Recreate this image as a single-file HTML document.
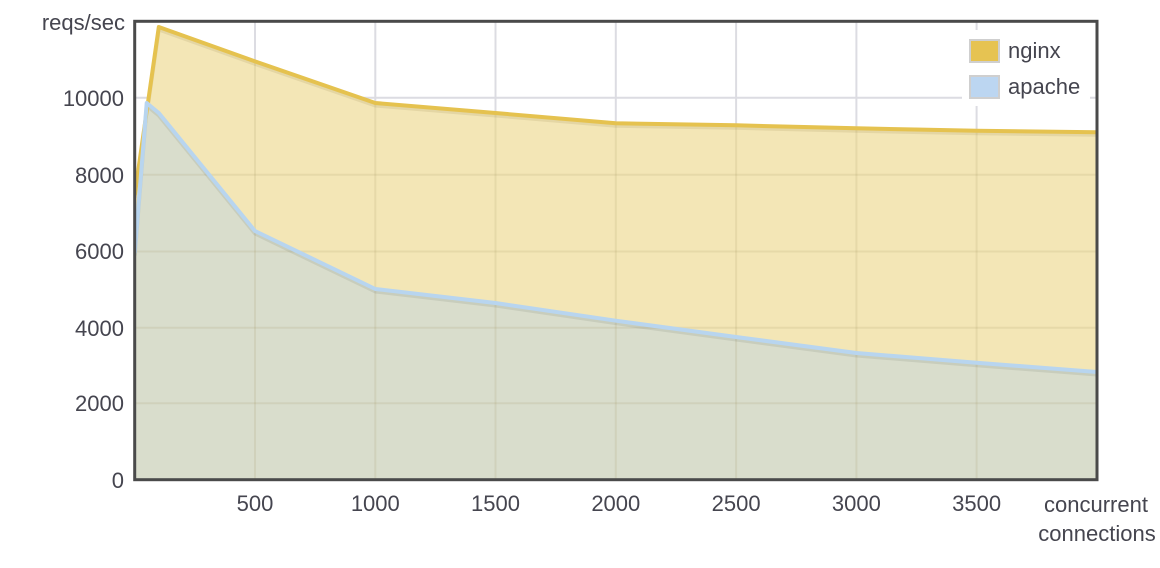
<!DOCTYPE html>
<html>
<head>
<meta charset="utf-8">
<style>
  html,body{margin:0;padding:0;background:#ffffff;}
  svg{display:block;}
  text{font-family:"Liberation Sans",Arial,sans-serif;fill:#45454f;font-size:22px;}
</style>
</head>
<body>
<svg width="1160" height="568" viewBox="0 0 1160 568" xmlns="http://www.w3.org/2000/svg">
  <defs>
    <clipPath id="plot">
      <rect x="134.7" y="21.3" width="962.3" height="458.4"/>
    </clipPath>
  </defs>
  <rect x="0" y="0" width="1160" height="568" fill="#ffffff"/>
  <rect x="134.7" y="21.3" width="962.3" height="458.4" fill="#ffffff"/>

  <g clip-path="url(#plot)">
    <!-- grid on white -->
    <g stroke="#dcdce2" stroke-width="2">
      <line x1="255" y1="21" x2="255" y2="480"/>
      <line x1="375.3" y1="21" x2="375.3" y2="480"/>
      <line x1="495.5" y1="21" x2="495.5" y2="480"/>
      <line x1="615.8" y1="21" x2="615.8" y2="480"/>
      <line x1="736.1" y1="21" x2="736.1" y2="480"/>
      <line x1="856.4" y1="21" x2="856.4" y2="480"/>
      <line x1="976.6" y1="21" x2="976.6" y2="480"/>
      <line x1="134" y1="97.7" x2="1098" y2="97.7"/>
    </g>
    <!-- nginx area -->
    <polygon fill="#f3e6b6" points="134.7,479.7 134.7,195.1 158.8,27 255,61.4 375.3,103 495.5,113 615.8,123.3 736.1,125.3 856.4,128.3 976.6,130.7 1097,132.3 1097,479.7"/>
    <!-- nginx shadow -->
    <polyline fill="none" stroke="rgba(120,100,40,0.12)" stroke-width="4" stroke-linejoin="round" transform="translate(0,2.5)" points="134.7,195.1 158.8,27 255,61.4 375.3,103 495.5,113 615.8,123.3 736.1,125.3 856.4,128.3 976.6,130.7 1097,132.3"/>
    <!-- apache area -->
    <polygon fill="#d9ddcc" points="134.7,479.7 134.7,253 146.7,103 158.8,113 255,231 375.3,289 495.5,303 615.8,320.7 736.1,337 856.4,353 976.6,362.7 1097,372 1097,479.7"/>
    <!-- grid on fills -->
    <g stroke="rgba(150,130,80,0.13)" stroke-width="2">
      <line x1="134" y1="403.3" x2="1098" y2="403.3"/>
      <line x1="134" y1="327.7" x2="1098" y2="327.7"/>
      <line x1="134" y1="251.5" x2="1098" y2="251.5"/>
      <line x1="134" y1="174.7" x2="1098" y2="174.7"/>
      <line x1="255" y1="61" x2="255" y2="480"/>
      <line x1="375.3" y1="103" x2="375.3" y2="480"/>
      <line x1="495.5" y1="113" x2="495.5" y2="480"/>
      <line x1="615.8" y1="123" x2="615.8" y2="480"/>
      <line x1="736.1" y1="125" x2="736.1" y2="480"/>
      <line x1="856.4" y1="128" x2="856.4" y2="480"/>
      <line x1="976.6" y1="130" x2="976.6" y2="480"/>
    </g>
    <!-- apache shadow -->
    <polyline fill="none" stroke="rgba(80,90,70,0.12)" stroke-width="4" stroke-linejoin="round" transform="translate(0,2.5)" points="134.7,253 146.7,103 158.8,113 255,231 375.3,289 495.5,303 615.8,320.7 736.1,337 856.4,353 976.6,362.7 1097,372"/>
    <!-- nginx line -->
    <polyline fill="none" stroke="#e5c24f" stroke-width="4" stroke-linejoin="round" points="134.7,195.1 158.8,27 255,61.4 375.3,103 495.5,113 615.8,123.3 736.1,125.3 856.4,128.3 976.6,130.7 1097,132.3"/>
    <!-- apache line -->
    <polyline fill="none" stroke="#b8d5ef" stroke-width="4" stroke-linejoin="round" points="134.7,253 146.7,103 158.8,113 255,231 375.3,289 495.5,303 615.8,320.7 736.1,337 856.4,353 976.6,362.7 1097,372"/>

    <!-- legend -->
    <rect x="962" y="30" width="128" height="76" fill="#ffffff"/>
    <rect x="970" y="40" width="29" height="22" fill="#e6c352" stroke="#cfcfcf" stroke-width="2"/>
    <rect x="970" y="76" width="29" height="22" fill="#bcd6f1" stroke="#cfcfcf" stroke-width="2"/>
  </g>
  <text x="1008" y="58">nginx</text>
  <text x="1008" y="94">apache</text>

  <!-- plot border -->
  <rect x="134.7" y="21.3" width="962.3" height="458.4" fill="none" stroke="#4a4a4a" stroke-width="3"/>

  <!-- y labels -->
  <g text-anchor="end">
    <text x="125" y="30">reqs/sec</text>
    <text x="124" y="106">10000</text>
    <text x="124" y="183">8000</text>
    <text x="124" y="259">6000</text>
    <text x="124" y="336">4000</text>
    <text x="124" y="411">2000</text>
    <text x="124" y="488">0</text>
  </g>
  <!-- x labels -->
  <g text-anchor="middle">
    <text x="255" y="511">500</text>
    <text x="375.3" y="511">1000</text>
    <text x="495.5" y="511">1500</text>
    <text x="615.8" y="511">2000</text>
    <text x="736.1" y="511">2500</text>
    <text x="856.4" y="511">3000</text>
    <text x="976.6" y="511">3500</text>
    <text x="1096" y="512">concurrent</text>
    <text x="1097" y="541">connections</text>
  </g>
</svg>
</body>
</html>
